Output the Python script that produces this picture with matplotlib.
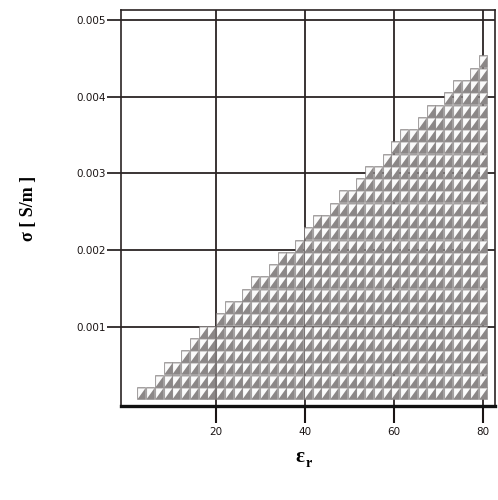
import matplotlib.pyplot as plt
import numpy as np
from matplotlib.path import Path

# sample grid of the (eps_r, sigma) plane
eps_cols = np.arange(3.2, 81.0, 1.97)
sigma_rows = np.arange(0.00014, 0.00460, 0.00016)

# upper edge of the admissible region
boundary_eps = [2.0, 80.0]
boundary_sigma = [0.0001, 0.0045]

x_ticks = [20, 40, 60, 80]
x_labels = ['20', '40', '60', '80']
y_ticks = [0.001, 0.002, 0.003, 0.004, 0.005]
y_labels = ['0.001', '0.002', '0.003', '0.004', '0.005']

E, S = np.meshgrid(eps_cols, sigma_rows)
E = E.ravel()
S = S.ravel()
keep = S <= np.interp(E, boundary_eps, boundary_sigma)
E = E[keep]
S = S[keep]

plt.rcParams['font.family'] = ['DejaVu Sans']

fig = plt.figure(figsize=(4.98, 5.0), dpi=100)
ax = fig.add_axes([0.243, 0.188, 0.751, 0.792])

# grey cell with a white notch in the upper-left corner
w = 0.356
cell = Path([(-w, -0.5), (w, -0.5), (w, 0.5), (-w, 0.5), (-w, -0.5)],
            [Path.MOVETO, Path.LINETO, Path.LINETO, Path.LINETO, Path.CLOSEPOLY])
notch_v = np.array([(-w + 0.08, 0.41), (w - 0.05, 0.41), (-w + 0.08, -0.40), (-w + 0.08, 0.41)])
notch = Path(notch_v, [Path.MOVETO, Path.LINETO, Path.LINETO, Path.CLOSEPOLY])
ms = 9.0
ms_notch = ms * np.abs(notch_v).max() / 0.5

grey = '#8b8787'
ax.scatter(E, S, marker=cell, s=ms ** 2, color=grey, edgecolors=grey,
           linewidths=0.4, zorder=3)
ax.scatter(E, S, marker=notch, s=ms_notch ** 2, color='#fbfbfb', linewidths=0,
           zorder=4)

ax.set_xlim(-1.35, 82.7)
ax.set_ylim(-0.00003, 0.00513)

ax.set_xticks(x_ticks)
ax.set_xticklabels(x_labels)
ax.set_yticks(y_ticks)
ax.set_yticklabels(y_labels)
ax.tick_params(axis='x', direction='out', length=12, width=1.5,
               colors='#1a1414', labelsize=7.5, pad=3)
ax.tick_params(axis='y', direction='out', length=10, width=1.2,
               colors='#1a1414', labelsize=7.5, pad=1)

ax.grid(True, color='#2b2424', linewidth=1.3, zorder=1)
ax.set_axisbelow(True)

for side in ['left', 'top', 'right']:
    ax.spines[side].set_linewidth(1.2)
    ax.spines[side].set_color('#2b2424')
ax.spines['bottom'].set_linewidth(2.4)
ax.spines['bottom'].set_color('#111111')

ax.set_ylabel('σ [ S/m ]', family='Liberation Serif', fontweight='bold',
              fontsize=13, labelpad=28)
fig.text(0.603, 0.085, 'ε', family='Liberation Serif', fontweight='bold',
         fontsize=15, ha='center', va='center')
fig.text(0.620, 0.073, 'r', family='Liberation Serif', fontweight='bold',
         fontsize=10, ha='center', va='center')

fig.savefig('out.png', dpi=100)
